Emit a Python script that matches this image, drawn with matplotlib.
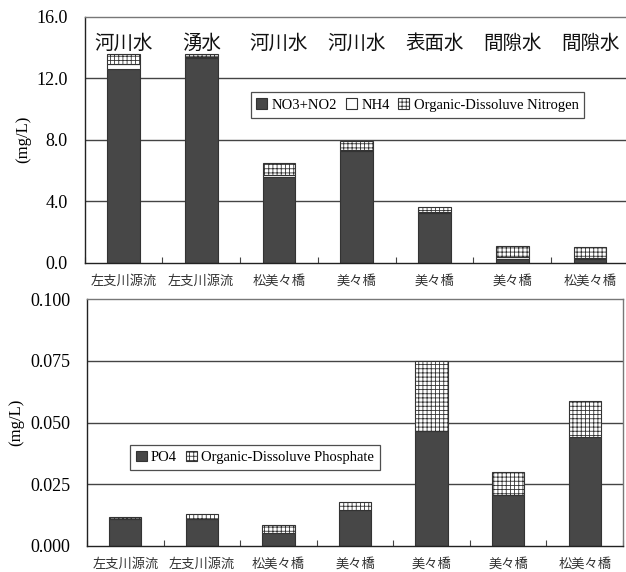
import matplotlib
matplotlib.use("Agg")
import matplotlib.pyplot as plt
import numpy as np

# Sampling sites and water types
sites = ["左支川源流", "左支川源流", "松美々橋", "美々橋", "美々橋", "美々橋", "松美々橋"]
water_types = ["河川水", "湧水", "河川水", "河川水", "表面水", "間隙水", "間隙水"]

# Nitrogen species (mg/L)
no3_no2 = [12.6, 13.3, 5.6, 7.25, 3.25, 0.24, 0.24]
nh4 = [0.3, 0.05, 0.1, 0.05, 0.05, 0.15, 0.08]
org_n = [0.7, 0.25, 0.8, 0.6, 0.3, 0.7, 0.68]

# Phosphorus species (mg/L)
po4 = [0.011, 0.011, 0.005, 0.0145, 0.0464, 0.0205, 0.0443]
org_p = [0.0008, 0.002, 0.0034, 0.0032, 0.0287, 0.0095, 0.0143]

n_ticks = [0.0, 4.0, 8.0, 12.0, 16.0]
p_ticks = [0.0, 0.025, 0.050, 0.075, 0.100]

DARK = "#474747"
EDGE = "#333333"
GRID = "#444444"
SERIF = "Liberation Serif"
CJK = "Noto Sans CJK JP"

plt.rcParams["hatch.linewidth"] = 0.6
plt.rcParams["hatch.color"] = "#3a3a3a"

W, H = 626, 572
fig = plt.figure(figsize=(W / 100, H / 100), dpi=100)


def px_axes(left, top, right, bottom):
    return fig.add_axes([left / W, 1 - bottom / H, (right - left) / W, (bottom - top) / H])


ax1 = px_axes(84.6, 16.7, 629.0, 262.7)
ax2 = px_axes(87.0, 299.3, 623.0, 545.7)

x = np.arange(len(sites))
bw = 0.42


def style_axes(ax, ticks, fmt):
    ax.set_xlim(-0.5, len(sites) - 0.5)
    ax.set_ylim(ticks[0], ticks[-1])
    ax.set_yticks(ticks)
    ax.set_yticklabels([fmt.format(t) for t in ticks], fontfamily=SERIF, fontsize=13)
    ax.tick_params(axis="y", length=0, pad=12)
    # boundary ticks between sites, labels at site centres
    ax.set_xticks(np.arange(len(sites) + 1) - 0.5)
    ax.set_xticklabels([])
    ax.set_xticks(x, minor=True)
    ax.set_xticklabels(sites, minor=True, fontfamily=CJK, fontsize=9.5, color="#333333")
    ax.tick_params(axis="x", which="major", direction="in", length=4, color=GRID)
    ax.tick_params(axis="x", which="minor", length=0, pad=9)
    for t in ticks[1:-1]:
        ax.axhline(t, color=GRID, lw=1.0, zorder=0)
    for s in ["left", "bottom"]:
        ax.spines[s].set_color("#222222")
        ax.spines[s].set_linewidth(1.0)
    for s in ["top", "right"]:
        ax.spines[s].set_color("#777777")
        ax.spines[s].set_linewidth(1.0)
    ax.set_ylabel("(mg/L)", fontfamily=SERIF, fontsize=12, labelpad=4)


style_axes(ax1, n_ticks, "{:.1f}")
style_axes(ax2, p_ticks, "{:.3f}")

# Nitrogen stacked bars
ax1.bar(x, no3_no2, bw, color=DARK, edgecolor=EDGE, lw=0.8, label="NO3+NO2", zorder=2)
bottom = np.array(no3_no2)
ax1.bar(x, nh4, bw, bottom=bottom, color="white", edgecolor=EDGE, lw=0.8, label="NH4", zorder=2)
bottom = bottom + np.array(nh4)
ax1.bar(x, org_n, bw, bottom=bottom, color="white", edgecolor=EDGE, lw=0.8,
        hatch="++++", label="Organic-Dissoluve Nitrogen", zorder=2)

for xi, wt in zip(x, water_types):
    ax1.text(xi, 14.25, wt, ha="center", va="center", fontfamily=CJK, fontsize=14, color="#111111")

leg1 = ax1.legend(ncol=3, loc="center", bbox_to_anchor=(0.6115, 0.641),
                  prop={"family": SERIF, "size": 10.5}, frameon=True, fancybox=False,
                  handlelength=0.75, handleheight=0.75, handletextpad=0.3,
                  columnspacing=0.6, borderpad=0.4, edgecolor="#222222")
leg1.get_frame().set_linewidth(0.9)

# Phosphorus stacked bars
ax2.bar(x, po4, bw, color=DARK, edgecolor=EDGE, lw=0.8, label="PO4", zorder=2)
ax2.bar(x, org_p, bw, bottom=po4, color="white", edgecolor=EDGE, lw=0.8,
        hatch="++++", label="Organic-Dissoluve Phosphate", zorder=2)

leg2 = ax2.legend(ncol=2, loc="center", bbox_to_anchor=(0.313, 0.358),
                  prop={"family": SERIF, "size": 10.5}, frameon=True, fancybox=False,
                  handlelength=0.75, handleheight=0.75, handletextpad=0.3,
                  columnspacing=0.6, borderpad=0.4, edgecolor="#222222")
leg2.get_frame().set_linewidth(0.9)

fig.savefig("out.png", dpi=100)
